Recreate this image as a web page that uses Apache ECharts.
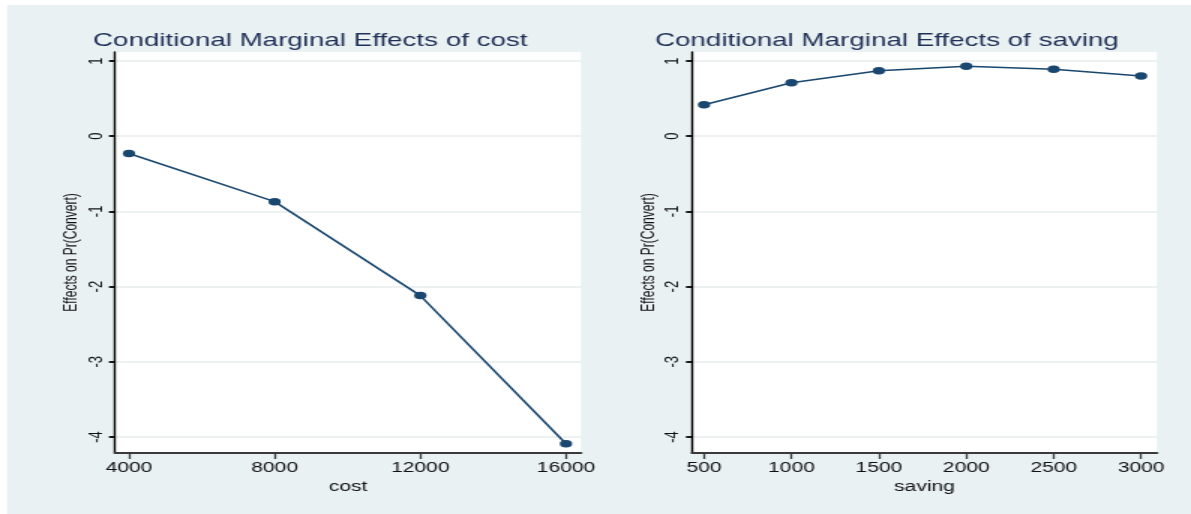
<!DOCTYPE html>
<html><head><meta charset="utf-8">
<script src="https://cdn.jsdelivr.net/npm/echarts@6/dist/echarts.min.js"></script>
<style>
html,body{margin:0;padding:0;background:#fff;overflow:hidden}
#wrap{width:1191px;height:514px;overflow:hidden;position:relative}
#chart{position:absolute;left:0;top:0;width:794px;height:514px;transform:scaleX(1.5);transform-origin:0 0}
</style></head>
<body><div id="wrap"><div id="chart"></div></div>
<script>
// ---- data ----
const costValues = [4000, 8000, 12000, 16000];
const costEffects = [-0.23, -0.87, -2.12, -4.09];
const savingValues = [500, 1000, 1500, 2000, 2500, 3000];
const savingEffects = [0.42, 0.71, 0.87, 0.93, 0.89, 0.80];
const yTicks = [-4, -3, -2, -1, 0, 1];
const costTicks = [4000, 8000, 12000, 16000];
const savingTicks = [500, 1000, 1500, 2000, 2500, 3000];
const titles = ['Conditional Marginal Effects of cost', 'Conditional Marginal Effects of saving'];
const xNames = ['cost', 'saving'];
const yName = 'Effects on Pr(Convert)';

// ---- layout (page is stretched horizontally by S) ----
const S = 1.5;
const FONT = 'Liberation Sans, Arial, Helvetica, sans-serif';
const NAVY = '#1a476f';

const panels = [
  {x0: 115, x1: 581, xmin: 3616, xmax: 16412, ticks: costTicks},
  {x0: 692, x1: 1157, xmin: 431, xmax: 3091, ticks: savingTicks}
];
const titleLeft = [93, 655];

const grids = panels.map(p => ({
  left: p.x0 / S, top: 52, width: (p.x1 - p.x0) / S, height: 401,
  show: true, backgroundColor: '#ffffff', borderWidth: 0
}));

const plain = v => String(v);

const xAxes = panels.map((p, i) => ({
  type: 'value', gridIndex: i, min: p.xmin, max: p.xmax,
  name: xNames[i], nameLocation: 'middle', nameGap: 20,
  nameTextStyle: {fontSize: 14, color: '#111', fontFamily: FONT},
  axisLine: {show: true, onZero: false, lineStyle: {color: '#3a3a3a', width: 2}},
  axisTick: {show: true, customValues: p.ticks, length: 6, lineStyle: {color: '#3a3a3a', width: 1.3}},
  axisLabel: {customValues: p.ticks, formatter: plain, margin: 8, fontSize: 14, color: '#111', fontFamily: FONT},
  splitLine: {show: false}
}));

const yAxes = panels.map((p, i) => ({
  type: 'value', gridIndex: i, min: -4.213, max: 1.12,
  name: yName, nameLocation: 'middle', nameGap: 23,
  nameTextStyle: {fontSize: 12, color: '#111', fontFamily: FONT},
  axisLine: {show: true, onZero: false, lineStyle: {color: '#000', width: 1.4}},
  axisTick: {show: true, customValues: yTicks, length: 4, lineStyle: {color: '#000', width: 1.8}},
  axisLabel: {customValues: yTicks, formatter: plain, rotate: 90, margin: 6, fontSize: 13, color: '#111', fontFamily: FONT},
  splitLine: {show: true, lineStyle: {color: '#e9ecec', width: 1.5}}
}));

const series = [
  {xs: costValues, ys: costEffects},
  {xs: savingValues, ys: savingEffects}
].map((d, i) => ({
  type: 'line', xAxisIndex: i, yAxisIndex: i,
  data: d.xs.map((x, k) => [x, d.ys[k]]),
  symbol: 'circle', symbolSize: [8.2, 7.5], showSymbol: true,
  lineStyle: {color: NAVY, width: 1.6},
  itemStyle: {color: NAVY},
  animation: false
}));

const chart = echarts.init(document.getElementById('chart'), null, {renderer: 'canvas'});
chart.setOption({
  animation: false,
  backgroundColor: 'transparent',
  graphic: [{
    type: 'rect', left: 7 / S, top: 5, z: -100, silent: true,
    shape: {width: 800, height: 520},
    style: {fill: '#e9f1f3'}
  }],
  title: titles.map((t, i) => ({
    text: t, left: titleLeft[i] / S, top: 31, padding: 0,
    textStyle: {fontSize: 18.5, fontWeight: 'normal', color: '#1f2f55', fontFamily: FONT}
  })),
  grid: grids,
  xAxis: xAxes,
  yAxis: yAxes,
  series: series
});
</script>
</body></html>
